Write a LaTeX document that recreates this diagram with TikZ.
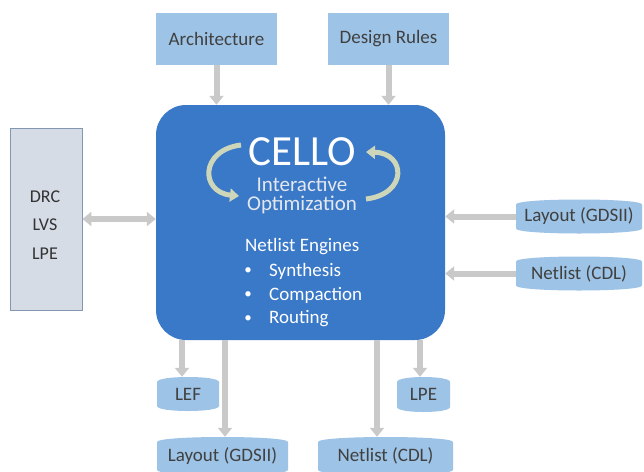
\documentclass[tikz,border=0pt]{standalone}
\usepackage{fontspec}
\setmainfont{Carlito}
\usetikzlibrary{arrows.meta}
\definecolor{lightblue}{RGB}{157,195,230}
\definecolor{mainblue}{RGB}{58,120,200}
\definecolor{arrowgrey}{RGB}{201,201,201}
\definecolor{drcfill}{RGB}{214,220,229}
\definecolor{drcline}{RGB}{132,151,176}
\definecolor{txtgrey}{RGB}{64,64,64}
\definecolor{sage}{RGB}{205,214,185}
\definecolor{softwhite}{RGB}{228,232,238}
\tikzset{
  topbox/.style={fill=lightblue, text=txtgrey, font=\fontsize{19}{22}\selectfont, inner sep=0pt},
  can/.style={fill=white, text=txtgrey, font=\fontsize{19}{22}\selectfont, inner sep=0pt,
    path picture={
      \fill[lightblue]
        ([yshift=-5pt]path picture bounding box.north west)
        .. controls ([yshift=1.67pt]path picture bounding box.north west)
        and ([yshift=1.67pt]path picture bounding box.north east)
        .. ([yshift=-5pt]path picture bounding box.north east)
        -- ([yshift=5pt]path picture bounding box.south east)
        .. controls ([yshift=-1.67pt]path picture bounding box.south east)
        and ([yshift=-1.67pt]path picture bounding box.south west)
        .. ([yshift=5pt]path picture bounding box.south west) -- cycle;
    }},
  garrow/.style={draw=arrowgrey, line width=6pt, -{Triangle[width=14pt,length=9pt]}},
  gdouble/.style={draw=arrowgrey, line width=6pt, {Triangle[width=14pt,length=9pt]}-{Triangle[width=14pt,length=9pt]}},
  curv/.style={draw=sage, line width=5pt, -{Triangle[width=13pt,length=9pt]}},
  maintxt/.style={text=white, font=\fontsize{19}{22}\selectfont, inner sep=0pt},
}
\begin{document}
\begin{tikzpicture}[x=1pt,y=-1pt]
\useasboundingbox (0,0) rectangle (644,471);

% main box
\node[fill=mainblue, rounded corners=30pt, minimum width=289pt, minimum height=235pt, inner sep=0pt] (main) at (300.5,222.5) {};

% top boxes
\node[topbox, minimum width=121pt, minimum height=52pt] (arch) at (216.5,39) {Architecture};
\node[topbox, minimum width=121pt, minimum height=52pt] (rules) at (388.5,39) {Design Rules};

% left box
\node[fill=drcfill, draw=drcline, line width=0.8pt, minimum width=72pt, minimum height=182pt, inner sep=0pt] (drc) at (46,219) {};
\node[text=black!80, font=\fontsize{18}{28.5}\selectfont, align=center, inner sep=0pt] (drctxt) at (45,225) {DRC\\LVS\\LPE};

% right cans
\node[can, minimum width=126pt, minimum height=34pt] (layR) at (579,216.5) {Layout (GDSII)};
\node[can, minimum width=126pt, minimum height=34pt] (netR) at (579,273.5) {Netlist (CDL)};

% bottom cans
\node[can, minimum width=62pt, minimum height=34pt] (lef) at (188,394) {LEF};
\node[can, minimum width=53pt, minimum height=35pt] (lpe) at (423.5,394.5) {LPE};
\node[can, minimum width=131pt, minimum height=38pt] (layB) at (222.5,456) {Layout (GDSII)};
\node[can, minimum width=135pt, minimum height=38pt] (netB) at (385.5,456) {Netlist (CDL)};

% main text
\node[text=white, font=\fontsize{43}{45}\selectfont, inner sep=0pt] (cello) at (302,152) {CELLO};
\node[text=softwhite, font=\fontsize{21}{24}\selectfont, inner sep=0pt] (inter) at (302,184) {Interactive};
\node[text=softwhite, font=\fontsize{21}{24}\selectfont, inner sep=0pt] (opt) at (302,205) {Optimization};
\node[maintxt, anchor=west] (engines) at (245,247) {Netlist Engines};
\node[maintxt, font=\fontsize{15}{18}\selectfont] (b1) at (248,271) {\textbullet};
\node[maintxt, font=\fontsize{15}{18}\selectfont] (b2) at (248,295) {\textbullet};
\node[maintxt, font=\fontsize{15}{18}\selectfont] (b3) at (248,319) {\textbullet};
\node[maintxt, anchor=west] (syn) at (269,271) {Synthesis};
\node[maintxt, anchor=west] (comp) at (269,295) {Compaction};
\node[maintxt, anchor=west] (rout) at (269,319) {Routing};

% curved arrows
\coordinate (c1s) at (241,145);
\coordinate (c1e) at (239,196);
\coordinate (c2s) at (366,199);
\coordinate (c2e) at (366,152);
\draw[curv] (c1s) .. controls (200,150) and (200,192) .. (c1e);
\draw[curv] (c2s) .. controls (408,194) and (406,153) .. (c2e);

% arrows top
\draw[garrow] (arch.south) -- (arch.south |- main.north);
\draw[garrow] (rules.south) -- (rules.south |- main.north);

% left double arrow
\draw[gdouble] (drc.east) -- (drc.east -| main.west);

% right arrows
\draw[garrow] (layR.west) -- (layR.west -| main.east);
\draw[garrow] (netR.west) -- (netR.west -| main.east);

% bottom arrows
\coordinate (pLEF) at (182,340);
\coordinate (pLAY) at (225,340);
\coordinate (pNET) at (377,340);
\coordinate (pLPE) at (420,340);
\draw[garrow] (pLEF) -- (pLEF |- lef.north);
\draw[garrow] (pLAY) -- (pLAY |- layB.north);
\draw[garrow] (pNET) -- (pNET |- netB.north);
\draw[garrow] (pLPE) -- (pLPE |- lpe.north);
\end{tikzpicture}
\end{document}
